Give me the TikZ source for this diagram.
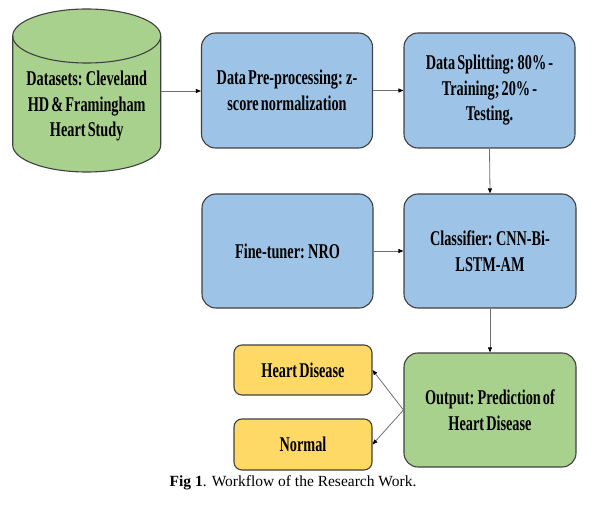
\documentclass[tikz,border=0pt]{standalone}
\usepackage{fontspec}
\setmainfont{Liberation Serif}
\newfontfamily\boxfont[FakeStretch=0.68,WordSpace=0.6]{Liberation Serif}
\usetikzlibrary{arrows.meta}
\definecolor{boxblue}{RGB}{157,195,230}
\definecolor{boxgreen}{RGB}{169,209,142}
\definecolor{boxyellow}{RGB}{255,217,102}
\definecolor{edgegray}{RGB}{64,64,64}
\definecolor{linegray}{RGB}{110,110,110}
\tikzset{
  btext/.style={font=\boxfont\bfseries\fontsize{21}{25.5}\selectfont, align=center, text=black},
  bigbox/.style={btext, draw=edgegray, line width=1.1pt, rounded corners=14pt, minimum width=171pt, minimum height=115pt, inner sep=0pt},
  smallbox/.style={btext, draw=edgegray, line width=1.1pt, rounded corners=8pt, fill=boxyellow, minimum width=138pt, minimum height=50pt, inner sep=0pt},
  arr/.style={draw=linegray, line width=0.8pt, -{Triangle[length=5pt,width=4pt,fill=black,color=black]}},
}
\begin{document}
\begin{tikzpicture}[x=1pt,y=-1pt]
\useasboundingbox (0,0) rectangle (597,505);
% cylinder
\path[fill=boxgreen, draw=edgegray, line width=1.1pt] (12.7,36) -- (12.7,145)
  arc[start angle=180,end angle=360,x radius=74pt,y radius=27pt] -- (160.7,36)
  arc[start angle=0,end angle=180,x radius=74pt,y radius=27pt] -- cycle;
\draw[edgegray, line width=1.1pt] (12.7,36) arc[start angle=180,end angle=360,x radius=74pt,y radius=27pt];
\node[btext] (data) at (86.7,106) {Datasets: Cleveland\\HD \& Framingham\\Heart Study};
\coordinate (dataE) at (160.7,91);
% boxes
\node[bigbox, fill=boxblue] (pre) at (287,90.5) {Data Pre-processing: z-\\score normalization};
\node[bigbox, fill=boxblue] (split) at (489.5,90.5) {Data Splitting: 80\% -\\Training; 20\% -\\Testing.};
\node[bigbox, fill=boxblue, minimum height=114pt] (fine) at (287.5,251) {Fine-tuner: NRO};
\node[bigbox, fill=boxblue, minimum width=172pt, minimum height=114pt] (cls) at (490,251) {Classifier: CNN-Bi-\\LSTM-AM};
\node[bigbox, fill=boxgreen, minimum width=172pt, minimum height=114pt] (out) at (490,410) {Output: Prediction of\\Heart Disease};
\node[smallbox] (hd) at (303,370) {Heart Disease};
\node[smallbox, minimum height=51pt] (normal) at (303,444.5) {Normal};
% connectors
\draw[arr] (dataE) -- (dataE -| pre.west);
\draw[arr] (pre.east) -- (split.west);
\draw[arr] (split.south) -- (cls.north);
\draw[arr] (fine.east) -- (cls.west);
\draw[arr] (cls.south) -- (out.north);
\draw[arr] (out.west) -- (hd.east);
\draw[arr] (out.west) -- (normal.east);
% caption
\node[font=\fontsize{15.5}{18}\selectfont] (cap) at (293,483) {\textbf{Fig 1}. Workflow of the Research Work.};
\end{tikzpicture}
\end{document}
